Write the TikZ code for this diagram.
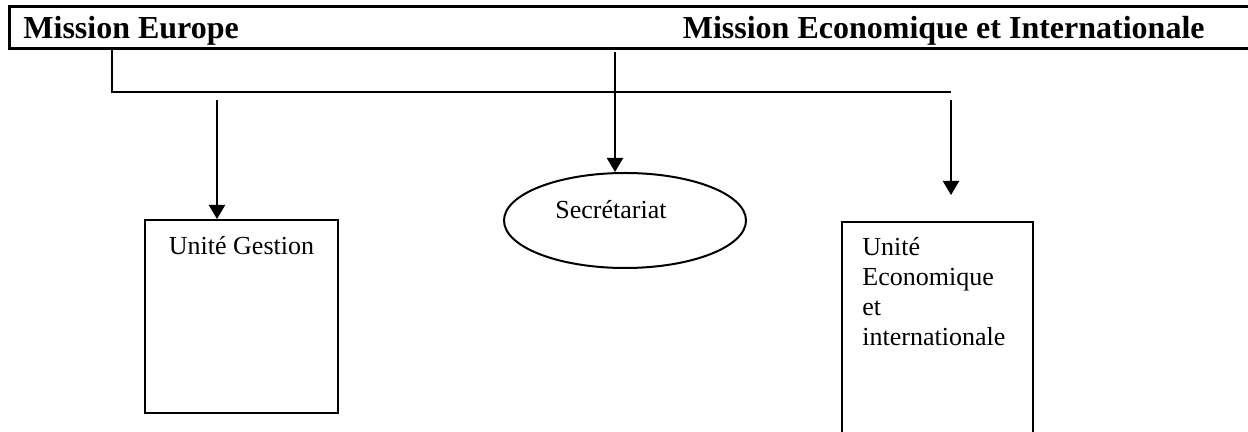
\documentclass[tikz,border=0pt]{standalone}
\usepackage{fontspec}
\setmainfont{Liberation Serif}
\usetikzlibrary{arrows.meta,calc,shapes.geometric}

\begin{document}
\begin{tikzpicture}[x=0.5pt,y=-0.5pt,
            frame/.style={black, line width=1.5pt},
            link/.style={black, line width=1pt},
            arrow/.style={link, -{Triangle[length=7pt,width=8pt]}},
            unit/.style={draw, line width=1pt, inner sep=0pt},
            title/.style={font=\fontsize{16pt}{19pt}\selectfont\bfseries, inner sep=0pt},
            body/.style={font=\fontsize{13pt}{15pt}\selectfont, inner sep=0pt}]

        \useasboundingbox (0,0) rectangle (1248,432);

        % header band, open on the right
        \draw[frame] (1252,7) -- (9,7) -- (9,49) -- (1252,49);
        \node[title, anchor=base west] (europe) at (23,39) {Mission Europe};
        \node[title, anchor=base east] (eco) at (1205,39) {Mission Economique et Internationale};

        % units
        \node[unit, anchor=north west, minimum width=96.5pt, minimum height=96.5pt] (gestion) at (144,219) {};
        \node[body, anchor=base] (gestiontext) at ($(gestion.north)+(0,36)$) {Unit\'e Gestion};
        \node[unit, ellipse, minimum width=121pt, minimum height=47.5pt] (secr) at (625,220.5) {};
        \node[body, anchor=base west] (secrtext) at (555,219) {Secr\'etariat};
        \node[unit, anchor=north west, minimum width=95.5pt, minimum height=110pt] (ecounit) at (841,221) {};
        \node[body, anchor=north west, align=left] (ecotext) at (862,237) {Unit\'e\\Economique\\et\\internationale};

        % links
        \coordinate (hub) at (112,49);
        \coordinate (busend) at (951,92);
        \coordinate (top) at (615,52);
        \coordinate (left) at (217,100);
        \coordinate (right) at (951,100);
        \coordinate (righttip) at (951,195);
        \draw[link] (hub) |- (busend);
        \draw[arrow] (top) -- (top |- secr.north);
        \draw[arrow] (left) -- (left |- gestion.north);
        \draw[arrow] (right) -- (righttip);
    \end{tikzpicture}
\end{document}
